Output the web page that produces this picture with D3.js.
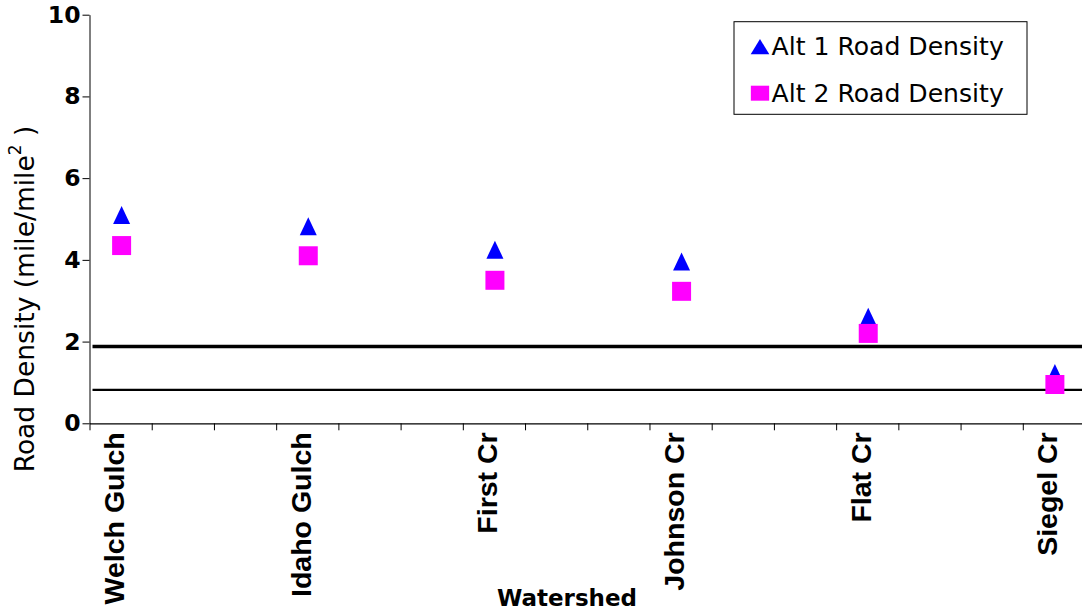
<!DOCTYPE html>
<html>
<head>
<meta charset="utf-8">
<script src="https://cdn.jsdelivr.net/npm/d3@7"></script>
<style>
  body { margin: 0; background: #fff; }
  svg { display: block; }
</style>
</head>
<body>
<svg id="chart" width="1082" height="615"></svg>
<script>
// Watersheds occupy every third slot of a 16-slot category axis.
const watersheds = ["Welch Gulch", "Idaho Gulch", "First Cr", "Johnson Cr", "Flat Cr", "Siegel Cr"];
const watershedSlots = [0, 3, 6, 9, 12, 15];
const slotCount = 16;

// Road density, mile per square mile
const alt1Density = [5.10, 4.82, 4.25, 3.96, 2.61, 1.23];
const alt2Density = [4.35, 4.10, 3.50, 3.23, 2.20, 0.95];

// Horizontal reference levels
const referenceLevels = [1.88, 0.82];
const referenceWidths = [3.5, 2.2];

const yTicks = [0, 2, 4, 6, 8, 10];
const seriesNames = ["Alt 1 Road Density", "Alt 2 Road Density"];
const seriesColors = ["#0000ff", "#ff00ff"];

const svg = d3.select("#chart");
const plot = { left: 89.5, right: 1085, top: 14.7, bottom: 423.3 };

const x = d3.scaleBand()
  .domain(d3.range(slotCount))
  .range([plot.left, plot.right])
  .paddingInner(0).paddingOuter(0);

// Linear twin of the band scale, for the slot boundary ticks
const xEdges = d3.scaleLinear().domain([0, slotCount]).range([plot.left, plot.right]);

const y = d3.scaleLinear().domain([0, 10]).range([plot.bottom, plot.top]);

const horizFont = "'DejaVu Sans', sans-serif";
const labelFont = "'Liberation Sans', Arial, sans-serif";

// Y axis
const yAxis = svg.append("g")
  .attr("transform", `translate(${plot.left},0)`)
  .call(d3.axisLeft(y).tickValues(yTicks).tickSize(7).tickSizeOuter(0).tickPadding(2));
yAxis.select(".domain").attr("stroke", "#000").attr("stroke-width", 1);
yAxis.selectAll(".tick line").attr("stroke", "#000");
yAxis.selectAll(".tick text")
  .attr("font-family", horizFont)
  .attr("font-weight", "bold")
  .attr("font-size", 23.5)
  .attr("fill", "#000");

// X axis with ticks on slot boundaries
const xAxis = svg.append("g")
  .attr("transform", `translate(0,${plot.bottom})`)
  .call(d3.axisBottom(xEdges).tickValues(d3.range(slotCount + 1)).tickSize(7).tickSizeOuter(0).tickFormat(""));
xAxis.select(".domain").attr("stroke", "#000").attr("stroke-width", 1.2);
xAxis.selectAll(".tick line").attr("stroke", "#000");

// Rotated watershed labels
const slotCenter = s => x(s) + x.bandwidth() / 2;
svg.append("g").selectAll("text")
  .data(watersheds)
  .join("text")
  .attr("transform", (d, i) => `translate(${slotCenter(watershedSlots[i])},${plot.bottom + 9}) rotate(-90)`)
  .attr("text-anchor", "end")
  .attr("dy", "0.12em")
  .attr("font-family", labelFont)
  .attr("font-weight", "bold")
  .attr("font-size", 28.5)
  .attr("fill", "#000")
  .text(d => d);

// Axis titles
svg.append("text")
  .attr("x", 567).attr("y", 606)
  .attr("text-anchor", "middle")
  .attr("font-family", horizFont)
  .attr("font-weight", "bold")
  .attr("font-size", 23)
  .text("Watershed");

const yTitle = svg.append("text")
  .attr("transform", "translate(25,299) rotate(-90)")
  .attr("text-anchor", "middle")
  .attr("dy", "0.35em")
  .attr("font-family", horizFont)
  .attr("font-size", 26.5)
  .attr("fill", "#000");
yTitle.append("tspan").text("Road Density (mile/mile");
yTitle.append("tspan").attr("font-size", 17).attr("dy", "-0.8em").text("2");
yTitle.append("tspan").attr("dy", "0.5em").text(" )");

// Reference levels
svg.append("g").selectAll("line")
  .data(referenceLevels)
  .join("line")
  .attr("x1", plot.left + 3).attr("x2", 1082)
  .attr("y1", d => y(d)).attr("y2", d => y(d))
  .attr("stroke", "#000")
  .attr("stroke-width", (d, i) => referenceWidths[i]);

// Marker shapes, centred on their bounding box
const trianglePath = (w, h) => `M0,${-h / 2}L${w / 2},${h / 2}L${-w / 2},${h / 2}Z`;
const squarePath = (w, h) => `M${-w / 2},${-h / 2}h${w}v${h}h${-w}Z`;

const points = svg.append("g");
points.selectAll("path.alt1")
  .data(alt1Density)
  .join("path")
  .attr("class", "alt1")
  .attr("d", trianglePath(17, 18))
  .attr("transform", (d, i) => `translate(${slotCenter(watershedSlots[i]) + 1},${y(d)})`)
  .attr("fill", seriesColors[0]);
points.selectAll("path.alt2")
  .data(alt2Density)
  .join("path")
  .attr("class", "alt2")
  .attr("d", squarePath(19, 19))
  .attr("transform", (d, i) => `translate(${slotCenter(watershedSlots[i]) + 1},${y(d)})`)
  .attr("fill", seriesColors[1]);

// Legend
const legend = svg.append("g").attr("transform", "translate(734,21.7)");
legend.append("rect")
  .attr("width", 293).attr("height", 92.6)
  .attr("fill", "#fff").attr("stroke", "#000").attr("stroke-width", 1);
const legendShapes = [trianglePath(18.6, 15.3), squarePath(18.3, 15)];
seriesNames.forEach((name, i) => {
  const row = legend.append("g").attr("transform", `translate(0,${25 + i * 46.5})`);
  row.append("path")
    .attr("d", legendShapes[i])
    .attr("transform", "translate(26,0)")
    .attr("fill", seriesColors[i]);
  row.append("text")
    .attr("x", 37.5).attr("y", 8.5)
    .attr("font-family", horizFont)
    .attr("font-size", 25.1)
    .attr("fill", "#000")
    .text(name);
});
</script>
</body>
</html>
